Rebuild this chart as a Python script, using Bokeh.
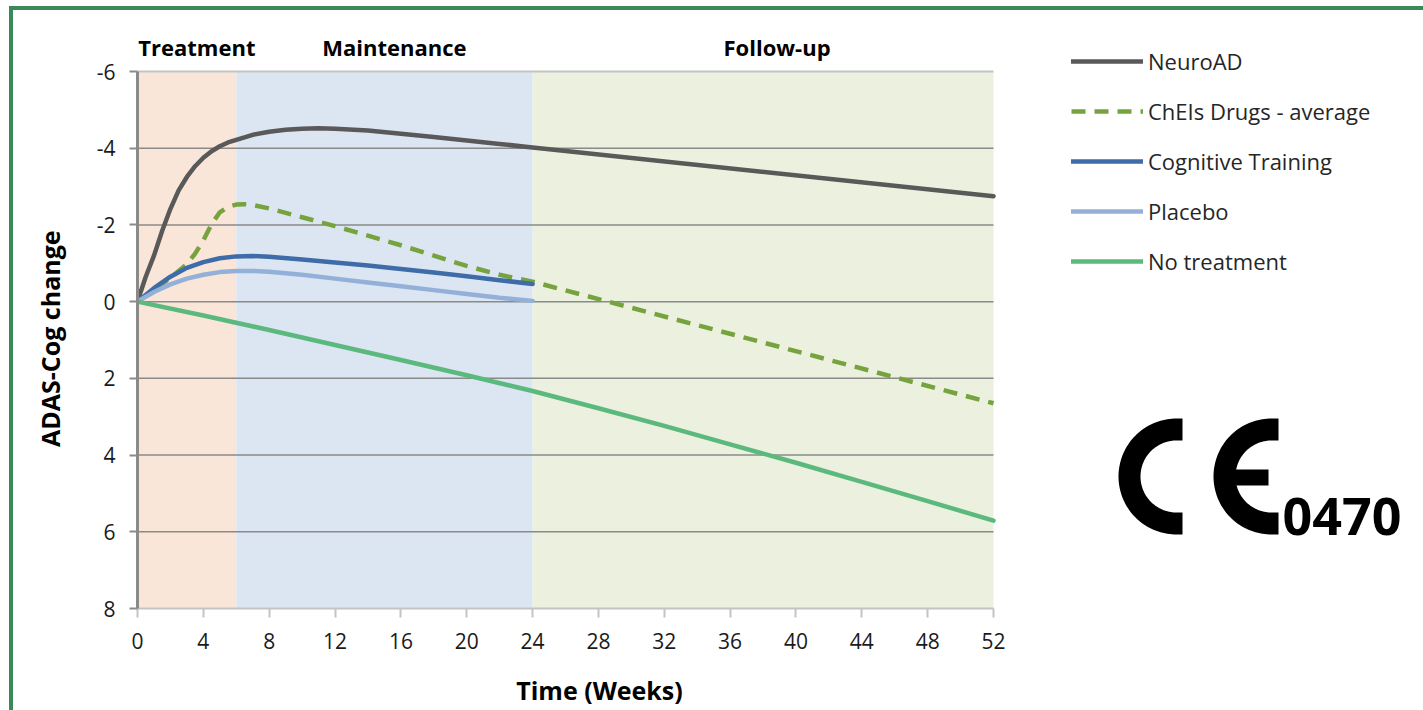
import numpy as np
from bokeh.plotting import figure
from bokeh.layouts import row
from bokeh.models import Range1d, FixedTicker, Legend, LegendItem
from bokeh.core.properties import value
from bokeh.embed import file_html
from bokeh.resources import INLINE

# ---------------- data ----------------
phase_names = ["Treatment", "Maintenance", "Follow-up"]
phase_start = [0, 6, 24]
phase_end = [6, 24, 52]

neuro_weeks = [0, 0.5, 1, 1.5, 2, 2.5, 3, 3.5, 4, 4.5, 5, 5.5, 6, 7, 8, 9, 10, 11, 12,
               14, 16, 18, 20, 22, 24, 52]
neuro_vals = [0, -0.65, -1.2, -1.85, -2.42, -2.9, -3.25, -3.53, -3.75, -3.92, -4.05,
              -4.15, -4.22, -4.35, -4.43, -4.48, -4.51, -4.52, -4.51, -4.46, -4.38,
              -4.29, -4.2, -4.11, -4.02, -2.75]

chei_weeks = [0, 1, 2, 2.5, 3, 3.5, 4, 4.5, 5, 5.5, 6, 6.5, 7, 8, 10, 12, 14, 16, 18,
              20, 22, 24, 52]
chei_vals = [0, -0.3, -0.62, -0.8, -0.98, -1.25, -1.6, -2.02, -2.33, -2.47, -2.53,
             -2.54, -2.52, -2.43, -2.2, -1.97, -1.72, -1.47, -1.2, -0.93, -0.7, -0.52,
             2.65]

cog_weeks = [0, 1, 2, 3, 4, 5, 6, 7, 8, 10, 12, 14, 16, 18, 20, 22, 24]
cog_vals = [0, -0.35, -0.65, -0.88, -1.03, -1.13, -1.18, -1.19, -1.17, -1.1, -1.02,
            -0.94, -0.85, -0.76, -0.66, -0.56, -0.46]

placebo_weeks = [0, 1, 2, 3, 4, 5, 6, 7, 8, 10, 12, 14, 16, 18, 20, 22, 24]
placebo_vals = [0, -0.25, -0.45, -0.6, -0.7, -0.77, -0.8, -0.8, -0.78, -0.7, -0.6,
                -0.5, -0.4, -0.3, -0.2, -0.1, -0.02]

notreat_weeks = [0, 4, 8, 12, 16, 20, 24, 28, 32, 36, 40, 44, 48, 52]
notreat_vals = [0, 0.36, 0.74, 1.13, 1.52, 1.92, 2.33, 2.78, 3.24, 3.72, 4.2, 4.7, 5.2, 5.71]

x_ticks = list(range(0, 53, 4))
y_ticks = [-6, -4, -2, 0, 2, 4, 6, 8]

series_names = ["NeuroAD", "ChEIs Drugs - average", "Cognitive Training", "Placebo",
                "No treatment"]
x_title = "Time (Weeks)"
y_title = "ADAS-Cog change"
ce_number = "0470"

# ---------------- styles ----------------
FONT = "Open Sans"
phase_colors = ["#f9e6d8", "#dce6f2", "#ebf1de"]
phase_label_offsets = [10, 10, 14]          # px nudges of the phase titles
series_colors = ["#595959", "#77a33f", "#3d6ca8", "#93b0d8", "#5bb97e"]
series_dash = ["solid", "14 9", "solid", "solid", "solid"]
LW = 4.5

# page geometry: content starts at (13, 10) because of the green CSS frame
X0, X52 = 137, 993           # page x of week 0 / 52
YM6, Y8 = 71, 608            # page y of -6 / 8
MAIN_RIGHT = 1061            # page x where the main figure ends
px_wk = (X52 - X0) / 52.0
px_unit = (Y8 - YM6) / 14.0

main = figure(width=MAIN_RIGHT - 13, height=700, output_backend="svg",
              toolbar_location=None, title_location=None,
              x_range=Range1d(0, (MAIN_RIGHT - X0) / px_wk),
              y_range=Range1d(8, -6 - (YM6 - 10) / px_unit),
              min_border_left=X0 - 13, min_border_right=0, min_border_top=0,
              min_border_bottom=710 - Y8, background_fill_color="white",
              border_fill_color="white", outline_line_color=None)
main.xgrid.visible = False
main.ygrid.visible = False

# phase shading
main.quad(left=phase_start, right=phase_end, top=y_ticks[0], bottom=y_ticks[-1],
          color=phase_colors, line_color=None)

# horizontal gridlines (inner) and plot-area top edge
grid_y = y_ticks[1:-1]
main.segment(x0=x_ticks[0], x1=x_ticks[-1], y0=grid_y, y1=grid_y,
             line_color="#8a8a8a", line_width=1.5)
main.segment(x0=[x_ticks[0]], x1=[x_ticks[-1]], y0=[y_ticks[0]], y1=[y_ticks[0]],
             line_color="#c4c4c4", line_width=2)

# series
xs = [neuro_weeks, chei_weeks, cog_weeks, placebo_weeks, notreat_weeks]
ys = [neuro_vals, chei_vals, cog_vals, placebo_vals, notreat_vals]
for i, (xx, yy) in enumerate(zip(xs, ys)):
    main.line(xx, yy, line_color=series_colors[i], line_width=LW,
              line_dash=series_dash[i], line_join="round",
              line_cap="butt" if i == 1 else "round")

# phase labels above the plot area
main.text(x=[(s + e) / 2 for s, e in zip(phase_start, phase_end)], y=[-6.65] * 3,
          text=phase_names, x_offset=phase_label_offsets, text_align="center",
          text_baseline="middle", text_font=value(FONT), text_font_style="bold",
          text_font_size="22px", text_color="#000000")

# axes
main.xaxis.ticker = FixedTicker(ticks=x_ticks)
main.yaxis.ticker = FixedTicker(ticks=y_ticks)
main.xaxis.bounds = (x_ticks[0], x_ticks[-1])
main.yaxis.bounds = (y_ticks[0], y_ticks[-1])
main.yaxis.major_label_overrides = {t: str(t) for t in y_ticks}
for ax in (main.xaxis[0], main.yaxis[0]):
    ax.major_label_text_font = FONT
    ax.major_label_text_font_size = "21px"
    ax.major_label_text_color = "#1a1a1a"
    ax.minor_tick_line_color = None
    ax.major_tick_in = 0
    ax.axis_label_text_font = FONT
    ax.axis_label_text_font_style = "bold"
    ax.axis_label_text_color = "#000000"
    ax.axis_label_text_font_size = "25px"
main.xaxis.axis_line_color = "#c4c4c4"
main.xaxis.axis_line_width = 2
main.xaxis.major_tick_line_color = "#c4c4c4"
main.xaxis.major_tick_line_width = 2
main.xaxis.major_tick_out = 9
main.xaxis.major_label_standoff = 15
main.xaxis.axis_label = x_title
main.xaxis.axis_label_standoff = 21
main.yaxis.axis_line_color = "#8a8a8a"
main.yaxis.axis_line_width = 3
main.yaxis.major_tick_line_color = "#8a8a8a"
main.yaxis.major_tick_line_width = 2
main.yaxis.major_tick_out = 8
main.yaxis.major_label_standoff = 14
# trailing no-break spaces shift the centred title down onto the plot-area centre
main.yaxis.axis_label = y_title + "\u00a0" * 9
main.yaxis.axis_label_standoff = 27

# ---------------- right panel: legend + CE mark (page coordinates) ----------------
RW = 1423 - MAIN_RIGHT
side = figure(width=RW, height=700, output_backend="svg", toolbar_location=None,
              title_location=None, x_range=Range1d(MAIN_RIGHT, 1423),
              y_range=Range1d(Y8, 10), x_axis_type=None, y_axis_type=None,
              min_border=0, min_border_left=0, min_border_right=0, min_border_top=0,
              min_border_bottom=710 - Y8, outline_line_color=None,
              background_fill_color="white", border_fill_color="white")
side.xgrid.visible = False
side.ygrid.visible = False

legend_rs = []
for i in range(len(series_names)):
    # legend swatches only: the points lie outside the visible range
    legend_rs.append(side.line(x=[0, 1], y=[-100, -100], line_color=series_colors[i],
                               line_width=LW, line_dash=series_dash[i],
                               line_cap="butt" if i == 1 else "round"))
items = [LegendItem(label=n, renderers=[r]) for n, r in zip(series_names, legend_rs)]
legend = Legend(items=items, location=(10, 332), glyph_width=72, glyph_height=20,
                label_height=20, spacing=20, padding=10, margin=0, label_standoff=5,
                label_text_font=FONT, label_text_font_size="22px",
                label_text_color="#262626", border_line_color=None,
                background_fill_alpha=0)
side.add_layout(legend)

# CE logo
def c_shape(cx, cy, R, r, ext):
    a = np.linspace(np.pi / 2, 3 * np.pi / 2, 80)
    ox = list(cx + R * np.cos(a)); oy = list(cy - R * np.sin(a))
    ix = list(cx + r * np.cos(a[::-1])); iy = list(cy - r * np.sin(a[::-1]))
    return (ox + [cx + ext, cx + ext] + ix + [cx + ext, cx + ext],
            oy + [cy + R, cy + r] + iy + [cy - r, cy - R])

cxs1, cys1 = c_shape(1176, 476, 58, 36, 6)
cxs2, cys2 = c_shape(1271, 476, 58, 36, 7)
side.patches(xs=[cxs1, cxs2, [1228, 1268, 1268, 1228]],
             ys=[cys1, cys2, [469, 469, 485, 485]],
             fill_color="black", line_color=None)
side.text(x=[1282], y=[516], text=[ce_number], text_font=value(FONT),
          text_font_style="bold", text_font_size="52px", text_color="black",
          text_baseline="alphabetic", text_align="left")

layout = row(main, side, spacing=0,
             styles={"margin-left": "9px", "margin-top": "6px",
                     "border-left": "4px solid #3b8858",
                     "border-top": "4px solid #3b8858"})

open("out.html", "w").write(file_html(layout, INLINE))
